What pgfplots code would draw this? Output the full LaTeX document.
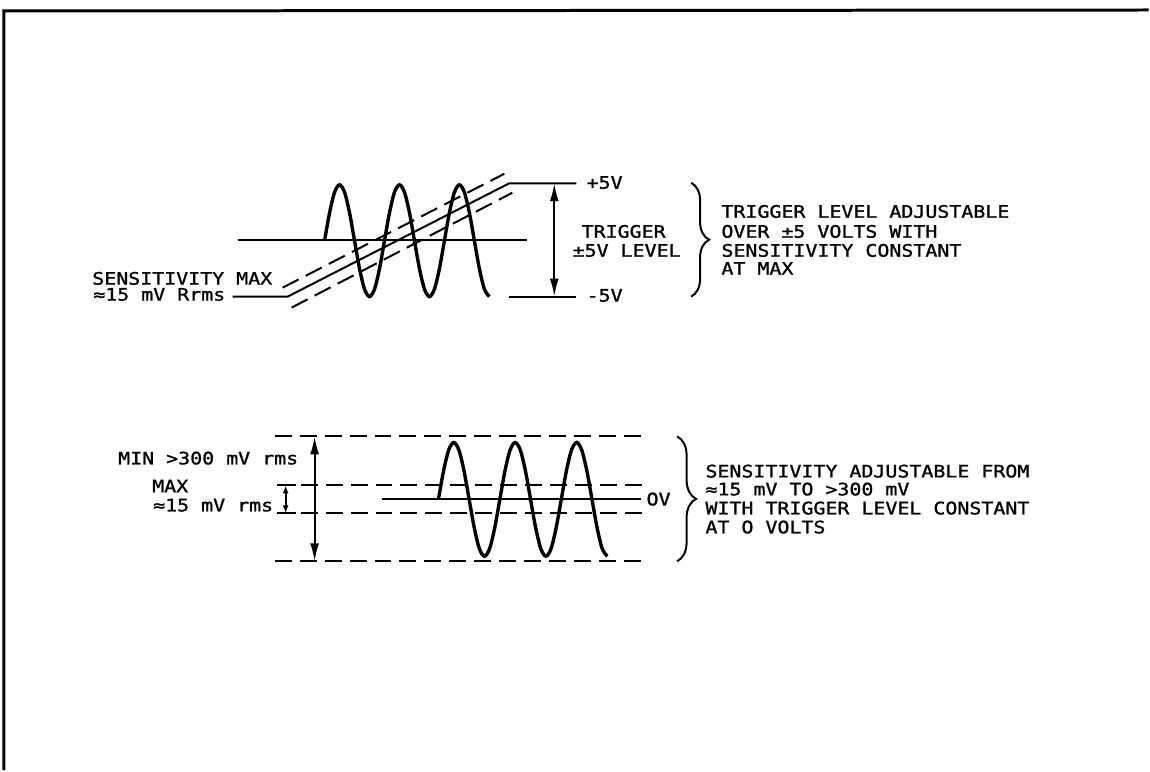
\documentclass[border=0pt]{standalone}
\usepackage{pgfplots}
\pgfplotsset{compat=1.18}
\usepackage{fontspec}
\usetikzlibrary{arrows.meta,decorations.pathreplacing}
\newfontfamily\plotfont[FakeStretch=1.16,FakeBold=1.2]{DejaVu Sans Mono}
\tikzset{txt/.style={anchor=base west, inner sep=0pt, font=\plotfont\fontsize{8.6}{10}\selectfont}}
\begin{document}
\begin{tikzpicture}
\begin{axis}[scale only axis, width=575pt, height=385.5pt,
  xmin=0, xmax=1150, ymin=0, ymax=771, y dir=reverse,
  axis lines=none, ticks=none, clip=false,
  cycle list={{black,solid}},
  every axis plot/.append style={black, line width=1pt, mark=none}]
% invisible bounding path
\addplot[draw=none] coordinates {(0,0) (1150,771)};
% frame
\addplot[black, line width=1.5pt] coordinates {(4,771) (4,11) (1150,10)};

% ===== top diagram =====
\addplot[black] coordinates {(238,240.7) (528,240.7)};
\addplot[black] coordinates {(233,297) (288,297) (510,183.5) (577,183.5)};
\addplot[black] coordinates {(510,297) (577,297)};
\addplot[black, dash pattern=on 9pt off 4pt] coordinates {(283,288) (505,174)};
\addplot[black, dash pattern=on 9pt off 4pt] coordinates {(292,308) (513,193)};
\addplot[black, line width=1.7pt, smooth, tension=0.5] coordinates {
(325,241) (330,213) (335,192.5) (340,185) (345,192.5) (350,213)
(355,241) (360,269) (365,289.5) (370,297) (375,289.5) (380,269)
(385,241) (390,213) (395,192.5) (400,185) (405,192.5) (410,213)
(415,241) (420,269) (425,289.5) (430,297) (435,289.5) (440,269)
(445,241) (450,213) (455,192.5) (460,185) (465,192.5) (470,213)
(475,241) (480,269) (485,289.5) (490,297)};
\addplot[black, {Latex[length=9pt,width=4.5pt]}-{Latex[length=9pt,width=4.5pt]}] coordinates {(555,183.5) (555,297)};
\addplot[black, decorate, decoration={brace, amplitude=9pt}] coordinates {(692,183) (692,297)};

\node[txt] at (axis cs:587,189) {+5V};
\node[txt] at (axis cs:587,302) {-5V};
\node[txt] at (axis cs:582,238) {TRIGGER};
\node[txt] at (axis cs:573,257) {±5V LEVEL};
\node[txt] at (axis cs:92,285) {SENSITIVITY MAX};
\node[txt] at (axis cs:93,301) {≈15 mV Rrms};
\node[txt] at (axis cs:722,218) {TRIGGER LEVEL ADJUSTABLE};
\node[txt] at (axis cs:722,238) {OVER ±5 VOLTS WITH};
\node[txt] at (axis cs:722,257) {SENSITIVITY CONSTANT};
\node[txt] at (axis cs:722,275) {AT MAX};

% ===== bottom diagram =====
\addplot[black, dash pattern=on 8.5pt off 4pt] coordinates {(275,437) (643,437)};
\addplot[black] coordinates {(277,486) (296,486)};
\addplot[black, dash pattern=on 8.5pt off 4pt] coordinates {(301,486) (643,486)};
\addplot[black] coordinates {(277,514) (296,514)};
\addplot[black, dash pattern=on 8.5pt off 4pt] coordinates {(301,514) (643,514)};
\addplot[black, dash pattern=on 8.5pt off 4pt] coordinates {(275,562) (643,562)};
\addplot[black] coordinates {(382,500) (642,500)};
\addplot[black, line width=1.7pt, smooth, tension=0.5] coordinates {
(439,500) (444.125,471.5) (449.25,450.6) (454.375,443) (459.5,450.6) (464.625,471.5)
(469.75,500) (474.875,528.5) (480,549.4) (485.125,557) (490.25,549.4) (495.375,528.5)
(500.5,500) (505.625,471.5) (510.75,450.6) (515.875,443) (521,450.6) (526.125,471.5)
(531.25,500) (536.375,528.5) (541.5,549.4) (546.625,557) (551.75,549.4) (556.875,528.5)
(562,500) (567.125,471.5) (572.25,450.6) (577.375,443) (582.5,450.6) (587.625,471.5)
(592.75,500) (597.875,528.5) (603,549.4) (608.125,557)};
\addplot[black, {Latex[length=9pt,width=4.5pt]}-{Latex[length=9pt,width=4.5pt]}] coordinates {(315,437) (315,562)};
\addplot[black, {Latex[length=4pt,width=3pt]}-{Latex[length=4pt,width=3pt]}] coordinates {(286,486) (286,514)};
\addplot[black, decorate, decoration={brace, amplitude=9.5pt}] coordinates {(678,437) (678,562)};

\node[txt] at (axis cs:118,465) {MIN >300 mV rms};
\node[txt] at (axis cs:152,493) {MAX};
\node[txt] at (axis cs:153,512) {≈15 mV rms};
\node[txt] at (axis cs:647,506) {OV};
\node[txt] at (axis cs:706,478) {SENSITIVITY ADJUSTABLE FROM};
\node[txt] at (axis cs:706,496) {≈15 mV TO >300 mV};
\node[txt] at (axis cs:706,515) {WITH TRIGGER LEVEL CONSTANT};
\node[txt] at (axis cs:706,534) {AT O VOLTS};
\end{axis}
\end{tikzpicture}
\end{document}
